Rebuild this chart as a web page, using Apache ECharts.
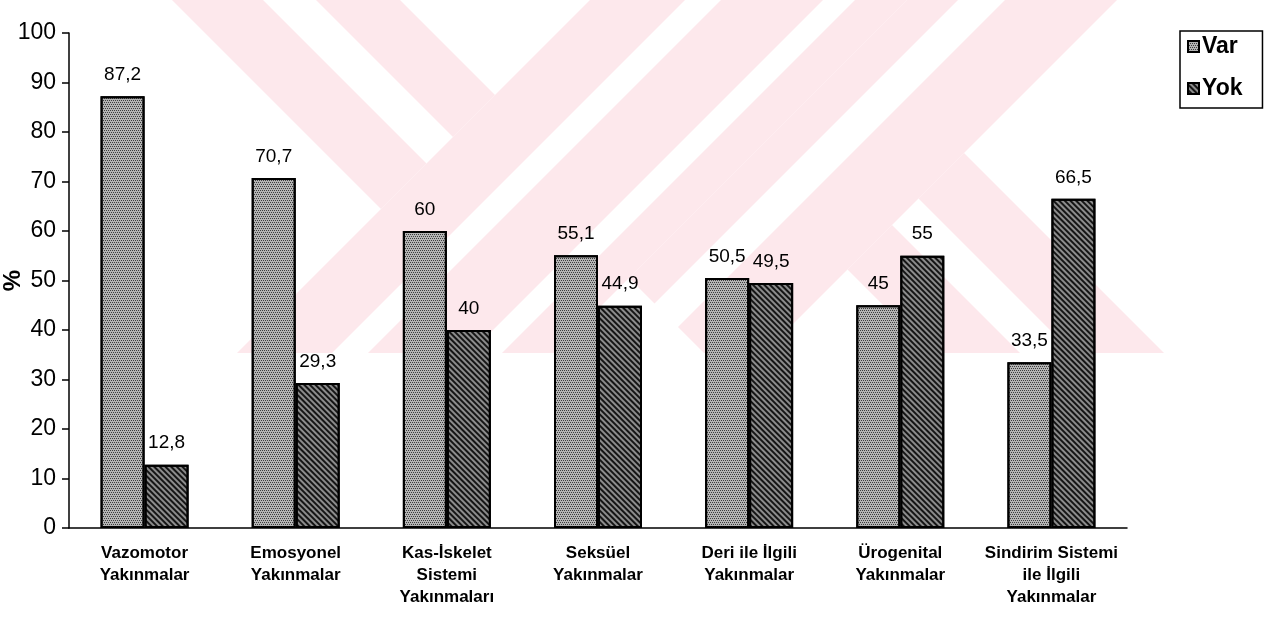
<!DOCTYPE html>
<html>
<head>
<meta charset="utf-8">
<title>Yakınmalar</title>
<script src="https://cdn.jsdelivr.net/npm/echarts@6/dist/echarts.min.js"></script>
<style>
  html, body { margin: 0; padding: 0; background: #fff; }
  #main { width: 1267px; height: 618px; }
</style>
</head>
<body>
<div id="main"></div>
<script>
// data
var categories = [
  'Vazomotor\nYakınmalar',
  'Emosyonel\nYakınmalar',
  'Kas-İskelet\nSistemi\nYakınmaları',
  'Seksüel\nYakınmalar',
  'Deri ile İlgili\nYakınmalar',
  'Ürogenital\nYakınmalar',
  'Sindirim Sistemi\nile İlgili\nYakınmalar'
];
var varValues = [87.2, 70.7, 60, 55.1, 50.5, 45, 33.5];
var yokValues = [12.8, 29.3, 40, 44.9, 49.5, 55, 66.5];
var seriesNames = ['Var', 'Yok'];

// faint pink watermark in the background (diagonal bands, u = x - y, v = x + y)
function clipY(pts, yMin, yMax) {
  function clip(poly, inside, cut) {
    var out = [];
    for (var i = 0; i < poly.length; i++) {
      var a = poly[i], b = poly[(i + 1) % poly.length];
      var ia = inside(a), ib = inside(b);
      if (ia) out.push(a);
      if (ia !== ib) out.push(cut(a, b));
    }
    return out;
  }
  function atY(y) {
    return function (a, b) {
      var t = (y - a[1]) / (b[1] - a[1]);
      return [a[0] + t * (b[0] - a[0]), y];
    };
  }
  pts = clip(pts, function (p) { return p[1] >= yMin; }, atY(yMin));
  pts = clip(pts, function (p) { return p[1] <= yMax; }, atY(yMax));
  return pts;
}
function band(u0, u1, v0, v1) {
  var uv = [[u0, v0], [u1, v0], [u1, v1], [u0, v1]];
  var pts = uv.map(function (p) { return [(p[0] + p[1]) / 2, (p[1] - p[0]) / 2]; });
  return {
    type: 'polygon',
    z: 0,
    silent: true,
    shape: { points: clipY(pts, 0, 353) },
    style: { fill: '#fde8ec' }
  };
}
var marks = [
  band(172, 263, 0, 590),
  band(316, 400, 0, 590),
  band(-800, 1300, 590, 685),
  band(-800, 1300, 721, 823),
  band(-800, 1300, 855, 907),
  band(351, 1300, 907, 958),
  band(351, 1300, 1005, 1117),
  band(578, 667, 1117, 2200),
  band(720, 811, 1117, 2200)
];

var myChart = echarts.init(document.getElementById('main'));

var labelStyle = {
  show: true,
  position: 'top',
  distance: 12,
  color: '#000',
  fontSize: 19,
  fontFamily: 'Liberation Sans, Arial, sans-serif',
  formatter: function (p) { return String(p.value).replace('.', ','); }
};

var option = {
  animation: false,
  backgroundColor: '#fff',
  textStyle: { fontFamily: 'Liberation Sans, Arial, sans-serif', color: '#000' },
  graphic: { elements: marks },
  grid: { left: 69, right: 140, top: 33, bottom: 90, outerBoundsMode: 'none', containLabel: false },
  legend: {
    orient: 'vertical',
    left: 1180,
    top: 31,
    padding: [4, 20, 8, 7],
    itemGap: 19,
    itemWidth: 11,
    itemHeight: 11,
    icon: 'rect',
    borderColor: '#000',
    borderWidth: 1.5,
    data: seriesNames,
    textStyle: { fontSize: 23, fontWeight: 'bold', color: '#000', padding: [0, 0, 0, -2] }
  },
  xAxis: {
    type: 'category',
    data: categories,
    axisLine: { lineStyle: { color: '#000', width: 1.5 } },
    axisTick: { length: 6, lineStyle: { color: '#000', width: 1.5 } },
    axisLabel: {
      interval: 0,
      color: '#000',
      fontSize: 17,
      fontWeight: 'bold',
      lineHeight: 22,
      margin: 14
    }
  },
  yAxis: {
    type: 'value',
    min: 0,
    max: 100,
    interval: 10,
    name: '%',
    nameLocation: 'middle',
    nameGap: 44,
    nameRotate: 90,
    nameMoveOverlap: false,
    nameTextStyle: { fontSize: 24, fontWeight: 'bold', color: '#000' },
    axisLine: { show: true, lineStyle: { color: '#000', width: 1.5 } },
    axisTick: { show: true, length: 7, lineStyle: { color: '#000', width: 1.5 } },
    axisLabel: { color: '#000', fontSize: 23, margin: 13 },
    splitLine: { show: false }
  },
  series: [
    {
      name: seriesNames[0],
      type: 'bar',
      data: varValues,
      barWidth: 44,
      barGap: '0%',
      label: labelStyle,
      itemStyle: {
        color: '#b4b4b4',
        borderColor: '#000',
        borderWidth: 2,
        decal: {
          symbol: 'rect',
          symbolSize: 1,
          color: 'rgba(30,30,30,0.8)',
          dashArrayX: [[1, 1], [0, 1, 1, 0]],
          dashArrayY: [1, 1],
          rotation: 0
        }
      }
    },
    {
      name: seriesNames[1],
      type: 'bar',
      data: yokValues,
      barWidth: 44,
      label: labelStyle,
      itemStyle: {
        color: '#8c8c8c',
        borderColor: '#000',
        borderWidth: 2,
        decal: {
          symbol: 'rect',
          symbolSize: 1,
          color: 'rgba(0,0,0,0.85)',
          dashArrayX: [1, 0],
          dashArrayY: [1.5, 2],
          rotation: Math.PI / 4
        }
      }
    }
  ]
};

myChart.setOption(option);
</script>
</body>
</html>
